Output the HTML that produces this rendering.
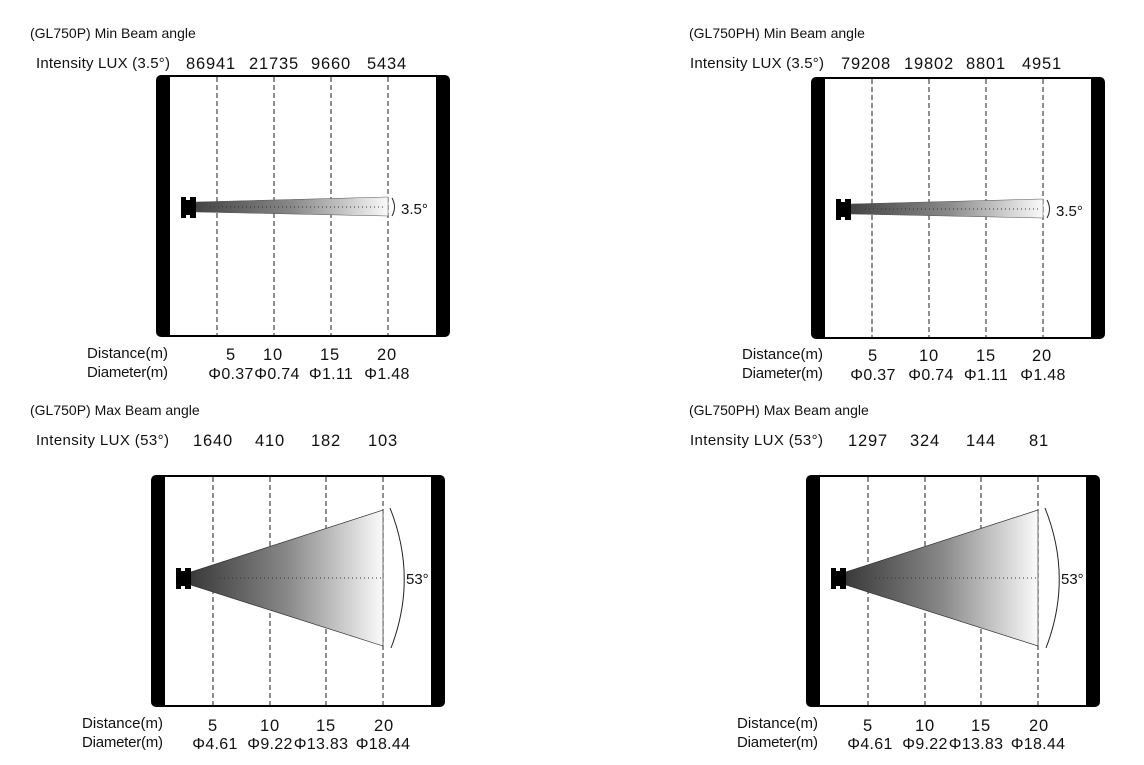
<!DOCTYPE html>
<html><head><meta charset="utf-8"><style>
html,body{margin:0;padding:0;background:#fff;width:1144px;height:765px;overflow:hidden}
svg text{font-family:"Liberation Sans",Arial,sans-serif;fill:#111}
.n{font-size:16.5px;letter-spacing:0.8px}
.d{font-size:16px;letter-spacing:0.3px}
</style></head><body>
<svg width="1144" height="765" viewBox="0 0 1144 765" xmlns="http://www.w3.org/2000/svg">
<defs>
<linearGradient id="g1" x1="0" x2="1" y1="0" y2="0">
<stop offset="0" stop-color="#444"/><stop offset="0.5" stop-color="#888"/><stop offset="1" stop-color="#fafafa"/></linearGradient>
<linearGradient id="g2" x1="0" x2="1" y1="0" y2="0">
<stop offset="0" stop-color="#3a3a3a"/><stop offset="0.5" stop-color="#888"/><stop offset="1" stop-color="#fafafa"/></linearGradient>
<g id="topPanel">
<rect x="156" y="75" width="294" height="262" rx="5" fill="#000"/>
<rect x="170" y="77" width="266" height="258" fill="#fff"/>
<g stroke="#222" stroke-width="1" stroke-dasharray="5,3">
<line x1="217" y1="77" x2="217" y2="335"/><line x1="274" y1="77" x2="274" y2="335"/>
<line x1="331" y1="77" x2="331" y2="335"/><line x1="388" y1="77" x2="388" y2="335"/></g>
<polygon points="196,202 388,197 388,216 196,212" fill="url(#g1)" stroke="#555" stroke-width="0.5"/>
<line x1="210" y1="207" x2="386" y2="207" stroke="#333" stroke-dasharray="1,3"/>
<path d="M181,197 h5 v3 h4 v-3 h6 v21 h-6 v-3 h-4 v3 h-5z" fill="#000"/>
<path d="M392,198 q5,9 0,18" fill="none" stroke="#222"/>
<text x="401" y="214" font-size="15">3.5°</text>
</g>
<g id="botPanel">
<rect x="151" y="475" width="294" height="232" rx="5" fill="#000"/>
<rect x="165" y="477" width="266" height="228" fill="#fff"/>
<g stroke="#222" stroke-width="1" stroke-dasharray="5,3">
<line x1="213" y1="477" x2="213" y2="705"/><line x1="270" y1="477" x2="270" y2="705"/>
<line x1="326" y1="477" x2="326" y2="705"/><line x1="383" y1="477" x2="383" y2="705"/></g>
<polygon points="191,572 383,510 383,646 191,585" fill="url(#g2)" stroke="#333" stroke-width="0.7"/>
<line x1="220" y1="578" x2="381" y2="578" stroke="#333" stroke-dasharray="1,3"/>
<path d="M176,568 h5 v3 h4 v-3 h6 v21 h-6 v-3 h-4 v3 h-5z" fill="#000"/>
<path d="M390,508 q28,70 1,140" fill="none" stroke="#222"/>
<text x="406" y="584" font-size="15">53°</text>
</g>
</defs>

<!-- top-left -->
<use href="#topPanel"/>
<text x="30" y="38" font-size="14">(GL750P) Min Beam angle</text>
<text x="36" y="68" font-size="15" textLength="134">Intensity LUX (3.5°)</text>
<g class="n" text-anchor="middle">
<text x="211" y="69">86941</text><text x="274" y="69">21735</text><text x="331" y="69">9660</text><text x="387" y="69">5434</text>
<text x="231" y="360">5</text><text x="273" y="360">10</text><text x="330" y="360">15</text><text x="387" y="360">20</text></g>
<g class="d" text-anchor="middle">
<text x="231" y="379">Φ0.37</text><text x="277" y="379">Φ0.74</text><text x="331" y="379">Φ1.11</text><text x="387" y="379">Φ1.48</text></g>
<text x="87" y="358" font-size="15" textLength="81">Distance(m)</text>
<text x="87" y="377" font-size="15" textLength="81">Diameter(m)</text>

<!-- top-right -->
<use href="#topPanel" transform="translate(655,2)"/>
<text x="689" y="38" font-size="14">(GL750PH) Min Beam angle</text>
<text x="690" y="68" font-size="15" textLength="134">Intensity LUX (3.5°)</text>
<g class="n" text-anchor="middle">
<text x="866" y="69">79208</text><text x="929" y="69">19802</text><text x="986" y="69">8801</text><text x="1042" y="69">4951</text>
<text x="873" y="361">5</text><text x="929" y="361">10</text><text x="986" y="361">15</text><text x="1042" y="361">20</text></g>
<g class="d" text-anchor="middle">
<text x="873" y="380">Φ0.37</text><text x="931" y="380">Φ0.74</text><text x="986" y="380">Φ1.11</text><text x="1043" y="380">Φ1.48</text></g>
<text x="742" y="359" font-size="15" textLength="81">Distance(m)</text>
<text x="742" y="378" font-size="15" textLength="81">Diameter(m)</text>

<!-- bottom-left -->
<use href="#botPanel"/>
<text x="30" y="415" font-size="14">(GL750P) Max Beam angle</text>
<text x="36" y="445" font-size="15" textLength="133">Intensity LUX (53°)</text>
<g class="n" text-anchor="middle">
<text x="213" y="446">1640</text><text x="270" y="446">410</text><text x="326" y="446">182</text><text x="383" y="446">103</text>
<text x="213" y="731">5</text><text x="270" y="731">10</text><text x="326" y="731">15</text><text x="384" y="731">20</text></g>
<g class="d" text-anchor="middle">
<text x="215" y="749">Φ4.61</text><text x="270" y="749">Φ9.22</text><text x="321" y="749">Φ13.83</text><text x="383" y="749">Φ18.44</text></g>
<text x="82" y="728" font-size="15" textLength="81">Distance(m)</text>
<text x="82" y="747" font-size="15" textLength="81">Diameter(m)</text>

<!-- bottom-right -->
<use href="#botPanel" transform="translate(655,0)"/>
<text x="689" y="415" font-size="14">(GL750PH) Max Beam angle</text>
<text x="690" y="445" font-size="15" textLength="133">Intensity LUX (53°)</text>
<g class="n" text-anchor="middle">
<text x="868" y="446">1297</text><text x="925" y="446">324</text><text x="981" y="446">144</text><text x="1039" y="446">81</text>
<text x="868" y="731">5</text><text x="925" y="731">10</text><text x="981" y="731">15</text><text x="1039" y="731">20</text></g>
<g class="d" text-anchor="middle">
<text x="870" y="749">Φ4.61</text><text x="925" y="749">Φ9.22</text><text x="976" y="749">Φ13.83</text><text x="1038" y="749">Φ18.44</text></g>
<text x="737" y="728" font-size="15" textLength="81">Distance(m)</text>
<text x="737" y="747" font-size="15" textLength="81">Diameter(m)</text>
</svg>
</body></html>
